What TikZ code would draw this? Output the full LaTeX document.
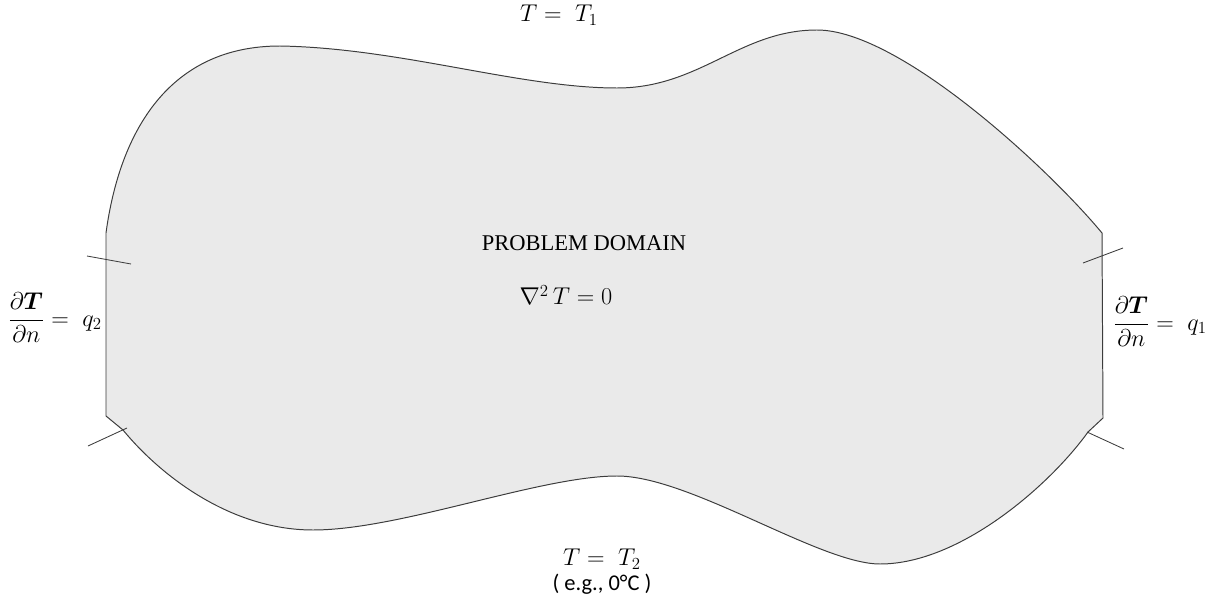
\documentclass[tikz,border=0pt]{standalone}
\usepackage{amsmath}
\usepackage{bm}
\usepackage{fontspec}
\setmainfont{Liberation Serif}
\newfontfamily\notefont{Carlito}
\usetikzlibrary{positioning}
\definecolor{domainfill}{RGB}{234,234,234}
\definecolor{edgegray}{RGB}{60,60,60}

\begin{document}
\begin{tikzpicture}[x=0.025cm, y=-0.025cm,
    boundary/.style={draw=edgegray, line width=0.7pt, fill=domainfill},
    tick/.style={draw=edgegray, line width=0.6pt},
    eqn/.style={inner sep=1pt, font=\fontsize{18}{22}\selectfont},
    title/.style={inner sep=1pt, font=\fontsize{16}{19}\selectfont},
    note/.style={inner sep=1pt, font=\notefont\fontsize{16}{19}\selectfont}]

    \useasboundingbox (0,0) rectangle (1213,604);

    % problem domain
    \draw [boundary] (106,416) -- (106,233)
        .. controls (120,130) and (170,46) .. (280,46)
        .. controls (400,48) and (520,88) .. (617,88)
        .. controls (700,88) and (740,30) .. (817,30)
        .. controls (900,30) and (1050,170) .. (1102,233)
        -- (1103,418) -- (1088,432)
        .. controls (1050,485) and (960,564) .. (880,564)
        .. controls (820,564) and (690,476) .. (617,476)
        .. controls (540,476) and (400,530) .. (313,530)
        .. controls (230,530) and (160,475) .. (123,430)
        -- cycle;

    % corner marks
    \coordinate (lu1) at (87,256);  \coordinate (lu2) at (131,264);
    \coordinate (ll1) at (88,446);  \coordinate (ll2) at (127,428);
    \coordinate (ru1) at (1083,263); \coordinate (ru2) at (1123,248);
    \coordinate (rl1) at (1087,432); \coordinate (rl2) at (1124,449);
    \draw [tick] (lu1) -- (lu2);
    \draw [tick] (ll1) -- (ll2);
    \draw [tick] (ru1) -- (ru2);
    \draw [tick] (rl1) -- (rl2);

    \node [eqn] (tone) at (559,15) {$T = \; T_1$};
    \node [title] (domain) at (584,243) {PROBLEM DOMAIN};
    \node [eqn] (laplace) at (566,295) {$\nabla^2\, T = 0$};
    \node [eqn] (qtwo) at (55,318) {$\dfrac{\partial \bm{T}}{\partial n} = \; q_2$};
    \node [eqn] (qone) at (1160,322) {$\dfrac{\partial \bm{T}}{\partial n} = \; q_1$};
    \node [eqn] (ttwo) at (602,559) {$T = \; T_2$};
    \node [note, below=1pt of ttwo] (eg) {( e.g., 0°C )};
\end{tikzpicture}
\end{document}
